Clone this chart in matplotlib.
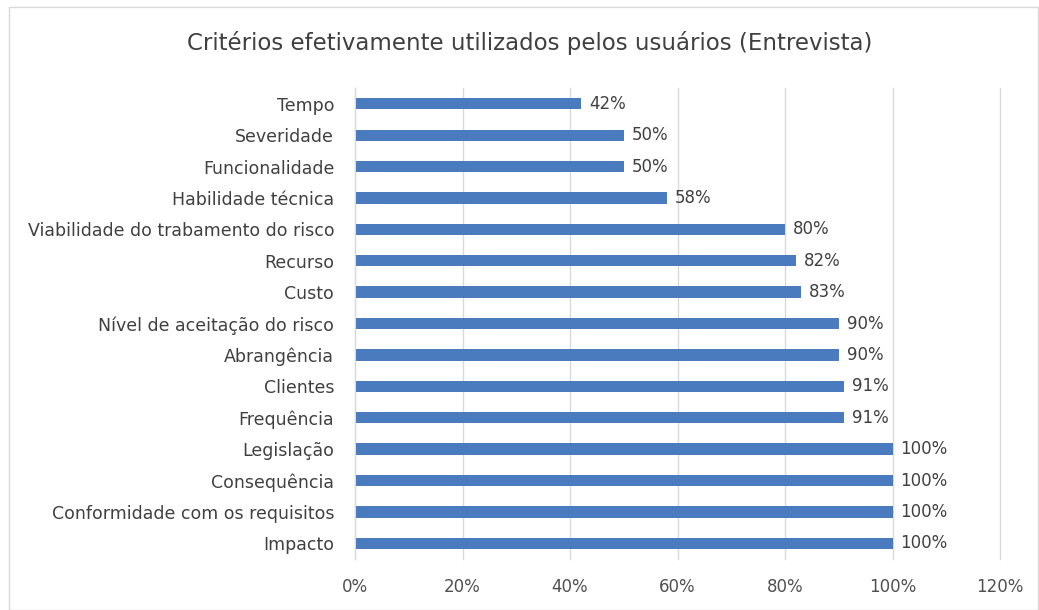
import matplotlib
matplotlib.use('Agg')
import matplotlib.pyplot as plt
from matplotlib.patches import Rectangle

# dados
criterios = ['Tempo', 'Severidade', 'Funcionalidade', 'Habilidade técnica',
             'Viabilidade do trabamento do risco', 'Recurso', 'Custo',
             'Nível de aceitação do risco', 'Abrangência', 'Clientes',
             'Frequência', 'Legislação', 'Consequência',
             'Conformidade com os requisitos', 'Impacto']
percentuais = [42, 50, 50, 58, 80, 82, 83, 90, 90, 91, 91, 100, 100, 100, 100]
ticks_x = [0, 20, 40, 60, 80, 100, 120]

plt.rcParams['font.family'] = ['DejaVu Sans']

fig = plt.figure(figsize=(10.39, 6.10), dpi=100)
ax = fig.add_axes([0.3417, 0.0836, 0.6208, 0.772])

pos = list(range(len(criterios)))[::-1]
ax.barh(pos, percentuais, height=0.36, color='#4a7bbf')
for p, v in zip(pos, percentuais):
    ax.text(v + 1.5, p, f'{v}%', va='center', ha='left', fontsize=12, color='#404040')

ax.set_xlim(0, 120)
ax.set_ylim(-0.5, len(criterios) - 0.5)
ax.set_yticks(pos)
ax.set_yticklabels(criterios, fontsize=12.5, color='#404040')
ax.set_xticks(ticks_x)
ax.set_xticklabels([f'{t}%' for t in ticks_x], fontsize=12, color='#505050')
ax.tick_params(axis='y', length=0, pad=15)
ax.tick_params(axis='x', length=0, pad=14)
ax.grid(axis='x', color='#d9d9d9', linewidth=1)
for gl in ax.get_xgridlines():
    gl.set_clip_on(False)
ax.set_axisbelow(True)
for s in ['top', 'right', 'bottom']:
    ax.spines[s].set_visible(False)
ax.spines['left'].set_color('#d9d9d9')

fig.text(0.51, 0.93, 'Critérios efetivamente utilizados pelos usuários (Entrevista)',
         ha='center', va='center', fontsize=16.5, color='#404040')
fig.patches.append(Rectangle((0.009, 0.0), 0.99, 0.988, transform=fig.transFigure,
                             fill=False, edgecolor='#d9d9d9', linewidth=1))

fig.savefig('out.png', dpi=100)
